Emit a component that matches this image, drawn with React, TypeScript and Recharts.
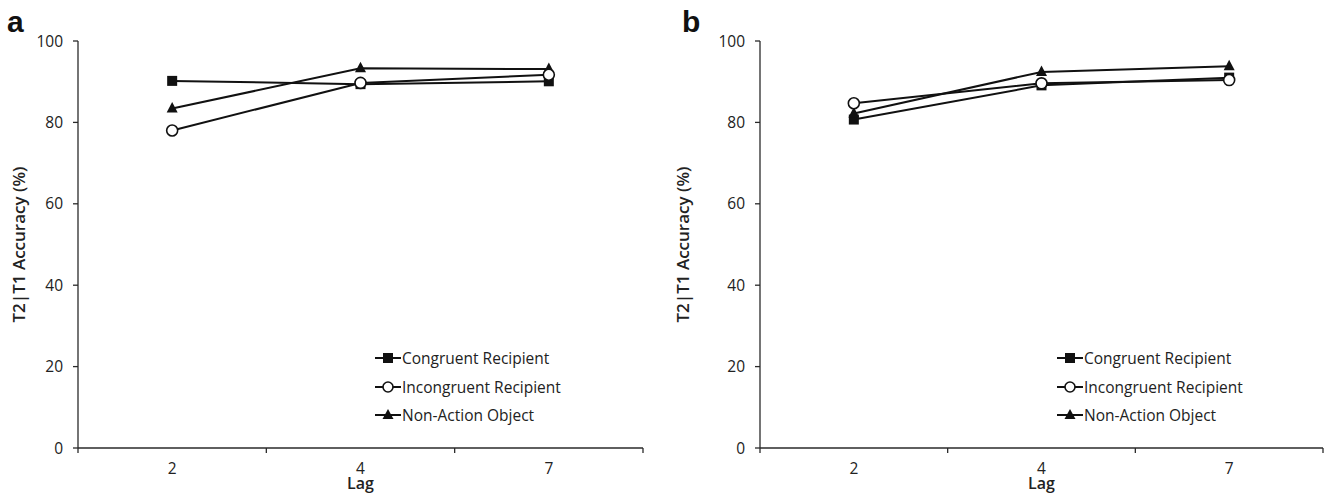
import { LineChart, Line, XAxis, YAxis, Legend } from 'recharts'

const lags = ['2', '4', '7']
const seriesNames = ['Congruent Recipient', 'Incongruent Recipient', 'Non-Action Object']
const yTicks = [0, 20, 40, 60, 80, 100]

// panel a
const aCongruent = [90.2, 89.4, 90.1]
const aIncongruent = [78.0, 89.7, 91.7]
const aNonAction = [83.4, 93.3, 93.1]

// panel b
const bCongruent = [80.7, 89.1, 91.0]
const bIncongruent = [84.7, 89.6, 90.4]
const bNonAction = [82.2, 92.4, 93.8]

const FONT = '"Open Sans", "Liberation Sans", sans-serif'
const INK = '#111'
const AXIS = '#2a2a2a'

const build = (c: number[], i: number[], n: number[]) =>
  lags.map((lag, k) => ({ lag, congruent: c[k], incongruent: i[k], nonAction: n[k] }))

const SquareDot = (props: any) => {
  const { cx, cy, index } = props
  return <rect key={`sq-${index}`} x={cx - 5} y={cy - 5} width={10} height={10} fill={INK} />
}

const CircleDot = (props: any) => {
  const { cx, cy, index } = props
  return <circle key={`ci-${index}`} cx={cx} cy={cy} r={5.5} fill="#fff" stroke={INK} strokeWidth={1.6} />
}

const TriangleDot = (props: any) => {
  const { cx, cy, index } = props
  return (
    <path
      key={`tr-${index}`}
      d={`M${cx},${cy - 6.5} L${cx + 5.5},${cy + 4} L${cx - 5.5},${cy + 4} Z`}
      fill={INK}
    />
  )
}

const LagTick = (props: any) => {
  const { x, y, payload, index, visibleTicksCount } = props
  const half = payload.offset ?? 94
  return (
    <g>
      <line x1={x - half} y1={y} x2={x - half} y2={y + 5} stroke={AXIS} strokeWidth={1.3} />
      {index === visibleTicksCount - 1 && (
        <line x1={x + half} y1={y} x2={x + half} y2={y + 5} stroke={AXIS} strokeWidth={1.3} />
      )}
      <text x={x} y={y + 26} textAnchor="middle" fontSize={15.5} fontFamily={FONT} fill="#222">
        {payload.value}
      </text>
    </g>
  )
}

const YLabel = (props: any) => {
  const { viewBox } = props
  const cx = viewBox.x + 18
  const cy = viewBox.y + viewBox.height / 2
  return (
    <text
      x={cx}
      y={cy}
      transform={`rotate(-90, ${cx}, ${cy})`}
      textAnchor="middle"
      dominantBaseline="central"
      fontSize={17}
      fontWeight={600}
      fontFamily={FONT}
      fill="#222"
    >
      T2|T1 Accuracy (%)
    </text>
  )
}

const legendIcon = (k: number) => (
  <svg width={26} height={14} style={{ display: 'block' }}>
    <line x1={0} y1={7} x2={26} y2={7} stroke={INK} strokeWidth={2} />
    {k === 0 && <rect x={8} y={2} width={10} height={10} fill={INK} />}
    {k === 1 && <circle cx={13} cy={7} r={5} fill="#fff" stroke={INK} strokeWidth={1.6} />}
    {k === 2 && <path d="M13,1 L18.5,11 L7.5,11 Z" fill={INK} />}
  </svg>
)

const renderLegend = () => (
  <div style={{ fontFamily: FONT, fontSize: 15.5, color: '#222', textAlign: 'left' }}>
    {seriesNames.map((name, k) => (
      <div key={name} style={{ display: 'flex', alignItems: 'center', height: 28.5 }}>
        {legendIcon(k)}
        <span style={{ marginLeft: 1 }}>{name}</span>
      </div>
    ))}
  </div>
)

interface PanelProps {
  letter: string
  c: number[]
  i: number[]
  n: number[]
  left: number
  yAxisWidth: number
  marginRight: number
  legendLeft: number
}

const Panel = ({ letter, c, i, n, left, yAxisWidth, marginRight, legendLeft }: PanelProps) => {
  const data = build(c, i, n)
  return (
    <div style={{ position: 'absolute', left, top: 0, width: 664, height: 501 }}>
      <div
        style={{
          position: 'absolute',
          left: letter === 'a' ? 7 : 18,
          top: 7,
          fontFamily: '"Liberation Sans", Arial, sans-serif',
          fontWeight: 700,
          fontSize: 30,
          lineHeight: 1,
          color: '#111',
        }}
      >
        {letter}
      </div>
      <LineChart
        width={664}
        height={501}
        data={data}
        margin={{ top: 41, right: marginRight, bottom: 13, left: 0 }}
      >
        <XAxis
          dataKey="lag"
          scale="band"
          height={40}
          tickSize={0}
          tickMargin={0}
          tickLine={false}
          axisLine={{ stroke: AXIS, strokeWidth: 1.3 }}
          tick={<LagTick />}
          interval={0}
          label={{ value: 'Lag', position: 'insideBottom', offset: -1, fontSize: 16, fontWeight: 600, fontFamily: FONT, fill: '#222' }}
        />
        <YAxis
          type="number"
          domain={[0, 100]}
          ticks={yTicks}
          width={yAxisWidth}
          tickSize={5}
          tickMargin={10}
          axisLine={{ stroke: AXIS, strokeWidth: 1.3 }}
          tickLine={{ stroke: AXIS, strokeWidth: 1.3 }}
          tick={{ fontSize: 15.5, fontFamily: FONT, fill: '#222' }}
          label={<YLabel />}
        />
        <Legend
          layout="horizontal"
          verticalAlign="middle"
          align="center"
          content={renderLegend}
          wrapperStyle={{ left: legendLeft, top: 344, width: 220 }}
        />
        <Line dataKey="congruent" name={seriesNames[0]} stroke={INK} strokeWidth={2} dot={SquareDot} isAnimationActive={false} />
        <Line dataKey="nonAction" name={seriesNames[2]} stroke={INK} strokeWidth={2} dot={TriangleDot} isAnimationActive={false} />
        <Line dataKey="incongruent" name={seriesNames[1]} stroke={INK} strokeWidth={2} dot={CircleDot} isAnimationActive={false} />
      </LineChart>
    </div>
  )
}

export default function App() {
  return (
    <div style={{ position: 'absolute', left: 0, top: 0, width: 1328, height: 501, background: '#fff', overflow: 'hidden' }}>
      <Panel letter="a" c={aCongruent} i={aIncongruent} n={aNonAction} left={0} yAxisWidth={78} marginRight={21} legendLeft={375} />
      <Panel letter="b" c={bCongruent} i={bIncongruent} n={bNonAction} left={664} yAxisWidth={96} marginRight={5} legendLeft={393} />
    </div>
  )
}
